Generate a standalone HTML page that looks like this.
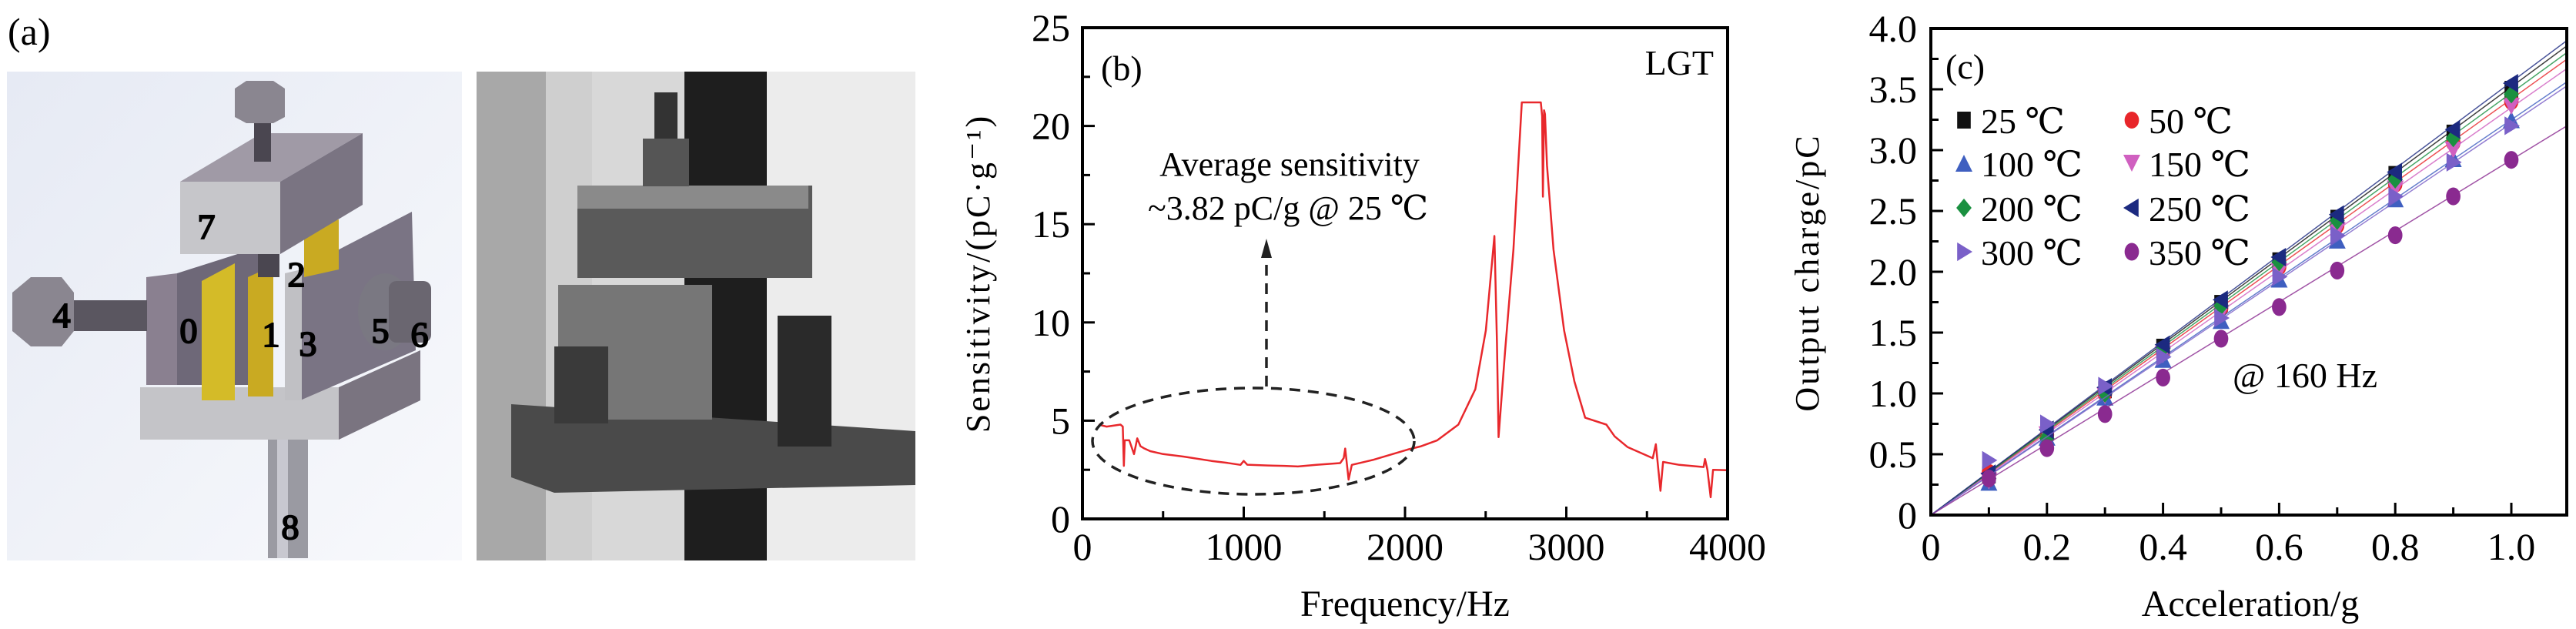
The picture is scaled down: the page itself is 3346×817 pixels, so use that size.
<!DOCTYPE html>
<html><head><meta charset="utf-8">
<style>
html,body{margin:0;padding:0;background:#fff;}
svg{display:block;}
text{font-family:"Liberation Serif","DejaVu Serif",serif;fill:#000;}
</style></head>
<body>
<svg id="fig" width="3346" height="817" viewBox="0 0 3346 817" xmlns="http://www.w3.org/2000/svg">
  <text x="10" y="58" font-size="50">(a)</text>
  <g>
    <defs><linearGradient id="bg1" x1="0" y1="0" x2="1" y2="1"><stop offset="0" stop-color="#e6eaf4"/><stop offset="1" stop-color="#f8f9fc"/></linearGradient></defs>
    <rect x="9" y="93" width="591" height="635" fill="url(#bg1)"/>
    <rect x="348" y="555" width="52" height="170" fill="#9a9aa2"/>
    <rect x="360" y="555" width="14" height="170" fill="#c8c8d0"/>
    <polygon points="182,503 470,503 546,455 546,520 440,571 182,571" fill="#a8a8ae"/>
    <polygon points="182,503 440,503 440,571 182,571" fill="#c4c4c8"/>
    <polygon points="440,503 546,455 546,520 440,571" fill="#7a7480"/>
    <polygon points="190,360 230,355 230,500 190,500" fill="#8a8090"/>
    <polygon points="230,355 340,320 340,500 230,500" fill="#6e6878"/>
    <polygon points="390,350 535,275 540,455 390,520" fill="#7a7484"/>
    <polygon points="370,355 392,350 392,520 370,520" fill="#c0c0c4"/>
    <polygon points="262,365 305,342 305,520 262,520" fill="#d4bb28"/>
    <polygon points="322,360 355,345 355,515 322,515" fill="#c9aa22"/>
    <polygon points="395,300 440,285 440,350 395,360" fill="#c9aa22"/>
    <rect x="96" y="390" width="95" height="40" fill="#5a5660"/>
    <polygon points="16,380 40,360 80,360 96,380 96,430 80,450 40,450 16,430" fill="#8a8690"/>
    <ellipse cx="500" cy="405" rx="35" ry="50" fill="#7a7882"/>
    <rect x="505" y="365" width="55" height="80" rx="10" fill="#6a6670"/>
    <rect x="335" y="290" width="28" height="70" fill="#4a4650"/>
    <polygon points="234,236 364,236 364,330 234,330" fill="#c6c6ca"/>
    <polygon points="234,236 364,236 471,173 340,173" fill="#a09aa6"/>
    <polygon points="364,236 471,173 471,266 364,330" fill="#7a7482"/>
    <rect x="330" y="150" width="22" height="60" fill="#4a4650"/>
    <polygon points="305,115 320,105 355,105 370,115 370,152 355,160 320,160 305,152" fill="#8a8690"/>
    <text x="268" y="310" font-size="46" fill="#fff" stroke="#000" stroke-width="2" text-anchor="middle">7</text>
    <text x="385" y="372" font-size="46" fill="#fff" stroke="#000" stroke-width="2" text-anchor="middle">2</text>
    <text x="80" y="425" font-size="46" fill="#fff" stroke="#000" stroke-width="2" text-anchor="middle">4</text>
    <text x="245" y="445" font-size="46" fill="#fff" stroke="#000" stroke-width="2" text-anchor="middle">0</text>
    <text x="352" y="450" font-size="46" fill="#fff" stroke="#000" stroke-width="2" text-anchor="middle">1</text>
    <text x="400" y="462" font-size="46" fill="#fff" stroke="#000" stroke-width="2" text-anchor="middle">3</text>
    <text x="494" y="445" font-size="46" fill="#fff" stroke="#000" stroke-width="2" text-anchor="middle">5</text>
    <text x="545" y="450" font-size="46" fill="#fff" stroke="#000" stroke-width="2" text-anchor="middle">6</text>
    <text x="377" y="700" font-size="46" fill="#fff" stroke="#000" stroke-width="2" text-anchor="middle">8</text>
  </g>
  <g>
    <rect x="619" y="93" width="570" height="635" fill="#d8d8d8"/>
    <rect x="619" y="93" width="90" height="635" fill="#a8a8a8"/>
    <rect x="709" y="93" width="60" height="635" fill="#cfcfcf"/>
    <rect x="990" y="93" width="199" height="635" fill="#ececec"/>
    <rect x="889" y="93" width="107" height="635" fill="#1e1e1e"/>
    <polygon points="664,525 1189,560 1189,630 720,640 664,620" fill="#4a4a4a"/>
    <rect x="725" y="370" width="200" height="175" fill="#767676"/>
    <rect x="720" y="450" width="70" height="100" fill="#3a3a3a"/>
    <rect x="750" y="241" width="305" height="120" fill="#5a5a5a"/>
    <rect x="750" y="241" width="300" height="30" fill="#8a8a8a"/>
    <rect x="835" y="180" width="60" height="62" fill="#555"/>
    <rect x="850" y="120" width="30" height="60" fill="#333"/>
    <rect x="1010" y="410" width="70" height="170" fill="#2a2a2a"/>
  </g>

  <!-- Panel b -->
  <g id="pb"></g>
  <!-- Panel c -->
  <g id="pc"></g>
</svg>
<script>
// ---------- Panel (b) data ----------
const bFreq = [100,150,236,250,257,262,290,320,340,360,380,420,500,629,800,900,980,1000,1022,1150,1250,1336,1450,1598,1620,1629,1650,1670,1800,2017,2100,2200,2331,2436,2501,2554,2570,2580,2620,2672,2724,2842,2850,2855,2862,2868,2880,2921,2986,3050,3117,3248,3300,3379,3536,3555,3584,3600,3700,3851,3860,3875,3895,3910,4000];
const bSens = [4.8,4.7,4.8,4.7,2.7,4.0,4.0,3.3,4.1,3.7,3.6,3.45,3.3,3.17,2.95,2.85,2.75,2.95,2.76,2.72,2.7,2.67,2.75,2.84,3.1,3.58,2.0,2.75,3.0,3.53,3.7,4.0,4.8,6.6,9.6,14.4,9.0,4.16,8.5,13.7,21.2,21.2,20.5,16.4,20.8,20.6,18.0,13.7,9.6,7.0,5.15,4.8,4.2,3.66,3.09,3.8,1.43,2.9,2.75,2.64,3.05,2.5,1.1,2.5,2.48];
const bXTicks = [0,1000,2000,3000,4000];
const bYTicks = [0,5,10,15,20,25];

// ---------- Panel (c) data ----------
const cAccel = [0.1,0.2,0.3,0.4,0.5,0.6,0.7,0.8,0.9,1.0];
const cLabels = ["25 ℃","50 ℃","100 ℃","150 ℃","200 ℃","250 ℃","300 ℃","350 ℃"];
const s25  = [0.33,0.68,1.03,1.38,1.74,2.09,2.44,2.80,3.14,3.50];
const s50  = [0.35,0.66,1.00,1.34,1.70,2.04,2.38,2.72,3.06,3.40];
const s100 = [0.27,0.64,0.97,1.28,1.60,1.94,2.26,2.60,2.93,3.25];
const s150 = [0.28,0.66,0.98,1.32,1.66,2.00,2.34,2.68,3.00,3.36];
const s200 = [0.30,0.63,1.00,1.37,1.72,2.08,2.42,2.76,3.10,3.46];
const s250 = [0.34,0.70,1.05,1.40,1.77,2.12,2.47,2.82,3.17,3.55];
const s300 = [0.45,0.75,1.06,1.30,1.62,1.96,2.30,2.62,2.90,3.20];
const s350 = [0.30,0.55,0.83,1.13,1.45,1.71,2.01,2.30,2.62,2.92];
const cSlopes = [3.52,3.42,3.25,3.35,3.47,3.56,3.22,2.92];
const cXTicks = [0,0.2,0.4,0.6,0.8,1.0];
const cYTicks = [0,0.5,1.0,1.5,2.0,2.5,3.0,3.5,4.0];

const NS="http://www.w3.org/2000/svg";
function mk(parent,tag,attrs,txt){const e=document.createElementNS(NS,tag);for(const k in attrs)e.setAttribute(k,attrs[k]);if(txt!==undefined)e.textContent=txt;parent.appendChild(e);return e;}

// ---------- draw b ----------
(function(){
 const g=document.getElementById('pb');
 const L=1406,R=2244,T=36,B=674;
 const xs=f=>L+(f/4000)*(R-L), ys=v=>B-(v/25)*(B-T);
 // minor ticks
 for(let f=500;f<4000;f+=500){const t=mk(g,'line',{x1:xs(f),x2:xs(f),y1:B,y2:B-(f%1000?10:16),stroke:'#000','stroke-width':3});
  
  }
 for(let v=2.5;v<25;v+=2.5){const t=mk(g,'line',{x1:L,x2:L+(v%5?10:16),y1:ys(v),y2:ys(v),stroke:'#000','stroke-width':3});
  
  }
 bXTicks.forEach(f=>{const t=mk(g,'text',{x:xs(f),y:727,'font-size':50,'text-anchor':'middle'},String(f));
  
  });
 bYTicks.forEach(v=>{const t=mk(g,'text',{x:1390,y:ys(v)+17,'font-size':50,'text-anchor':'end'},String(v));
  
  });
 // curve
 const pts=bFreq.map((f,i)=>xs(f).toFixed(1)+','+ys(bSens[i]).toFixed(1)).join(' ');
 const pl=mk(g,'polyline',{points:pts,fill:'none',stroke:'#e8282c','stroke-width':2.5,'stroke-linejoin':'round'});
 
 
 const el=mk(g,'ellipse',{cx:1628,cy:573,rx:209,ry:69,fill:'none',stroke:'#222','stroke-width':3.5,'stroke-dasharray':'14 10'});
 
 
 const ar=mk(g,'line',{x1:1645,y1:502,x2:1645,y2:330,stroke:'#222','stroke-width':3.5,'stroke-dasharray':'14 10'});
 
 
 mk(g,'polygon',{points:'1638,335 1652,335 1645,310',fill:'#222'});
 const fr=mk(g,'rect',{x:L,y:T,width:R-L,height:B-T,fill:'none',stroke:'#000','stroke-width':4});
 
 
 const a1=mk(g,'text',{x:1675,y:228,'font-size':44,'text-anchor':'middle'},'Average sensitivity');
 
 
 const a2=mk(g,'text',{x:1673,y:285,'font-size':44,'text-anchor':'middle'},'~3.82 pC/g @ 25 ℃');
 
 
 const lb=mk(g,'text',{x:1430,y:104,'font-size':46},'(b)');
 
 
 const lg=mk(g,'text',{x:2226,y:97,'font-size':46,'text-anchor':'end'},'LGT');
 
 
 const xt=mk(g,'text',{x:1825,y:800,'font-size':48,'text-anchor':'middle'},'Frequency/Hz');
 
 
 const yt=mk(g,'text',{x:0,y:0,'font-size':44,'text-anchor':'middle','letter-spacing':'3',transform:'translate(1285,355) rotate(-90)'},'Sensitivity/(pC·g⁻¹)');
 
 
})();

// ---------- draw c ----------
(function(){
 const g=document.getElementById('pc');
 const L=2508,R=3334,T=37,B=669;
 const xs=a=>L+a*754, ys=v=>B-(v/4)*(B-T);
 const series=[s25,s50,s100,s150,s200,s250,s300,s350];
 const colors=['#111','#e8262a','#3f5fc0','#d060c0','#1a9040','#1c2a80','#7a60c8','#8a2a90'];
 const shapes=['square','circle','up','down','diamond','left','right','hex'];
 for(let a=0.1;a<1.09;a+=0.1){const t=mk(g,'line',{x1:xs(a),x2:xs(a),y1:B,y2:B-(Math.round(a*10)%2?10:16),stroke:'#000','stroke-width':3});
  
  }
 for(let v=0.25;v<4;v+=0.25){const t=mk(g,'line',{x1:L,x2:L+(Math.round(v*4)%2?10:16),y1:ys(v),y2:ys(v),stroke:'#000','stroke-width':3});
  
  }
 cXTicks.forEach(a=>{const t=mk(g,'text',{x:xs(a),y:727,'font-size':50,'text-anchor':'middle'},a===0?'0':a.toFixed(1));
  
  });
 cYTicks.forEach(v=>{const t=mk(g,'text',{x:2490,y:ys(v)+17,'font-size':50,'text-anchor':'end'},v===0?'0':v.toFixed(1));
  
  });
 const clip=mk(g,'clipPath',{id:'cclip'});mk(clip,'rect',{x:L,y:T,width:R-L,height:B-T});
 function marker(p,shape,x,y,r,col){
  let e;
  if(shape==='square')e=mk(p,'rect',{x:x-r*0.8,y:y-r,width:r*1.6,height:r*2,fill:col});
  else if(shape==='circle')e=mk(p,'ellipse',{cx:x,cy:y,rx:r*0.85,ry:r,fill:col});
  else if(shape==='hex')e=mk(p,'ellipse',{cx:x,cy:y,rx:r*0.85,ry:r*1.05,fill:col});
  else if(shape==='up')e=mk(p,'polygon',{points:`${x},${y-r} ${x+r},${y+r} ${x-r},${y+r}`,fill:col});
  else if(shape==='down')e=mk(p,'polygon',{points:`${x-r},${y-r} ${x+r},${y-r} ${x},${y+r}`,fill:col});
  else if(shape==='diamond')e=mk(p,'polygon',{points:`${x},${y-r*1.1} ${x+r*0.9},${y} ${x},${y+r*1.1} ${x-r*0.9},${y}`,fill:col});
  else if(shape==='left')e=mk(p,'polygon',{points:`${x-r},${y} ${x+r*0.8},${y-r*1.1} ${x+r*0.8},${y+r*1.1}`,fill:col});
  else e=mk(p,'polygon',{points:`${x+r},${y} ${x-r*0.8},${y-r*1.1} ${x-r*0.8},${y+r*1.1}`,fill:col});
  return e;
 }
 series.forEach((s,i)=>{
  const ln=mk(g,'line',{x1:xs(0),y1:ys(0),x2:xs(1.1),y2:ys(cSlopes[i]*1.1),stroke:colors[i],'stroke-width':1.5,'clip-path':'url(#cclip)',opacity:0.8});
  
  
  s.forEach((v,j)=>{const m=marker(g,shapes[i],xs(cAccel[j]),ys(v),11,colors[i]);
   
   });
 });
 // legend
 cLabels.forEach((lab,i)=>{
  const col=i%2,row=Math.floor(i/2);
  const mx=col?2769:2551, ty=[156,212,270,327][row];
  const m=marker(g,shapes[i],mx,ty,11,colors[i]);
  
  
  const t=mk(g,'text',{x:mx+22,y:ty+17,'font-size':46},lab);
  
  
 });
 const fr=mk(g,'rect',{x:L,y:T,width:R-L,height:B-T,fill:'none',stroke:'#000','stroke-width':4});
 
 
 const lb=mk(g,'text',{x:2527,y:102,'font-size':46},'(c)');
 
 
 const fq=mk(g,'text',{x:2900,y:503,'font-size':46},'@ 160 Hz');
 
 
 const xt=mk(g,'text',{x:2923,y:800,'font-size':48,'text-anchor':'middle'},'Acceleration/g');
 
 
 const yt=mk(g,'text',{x:0,y:0,'font-size':44,'text-anchor':'middle','letter-spacing':'3',transform:'translate(2362,354) rotate(-90)'},'Output charge/pC');
 
 
})();
</script>
</body></html>
